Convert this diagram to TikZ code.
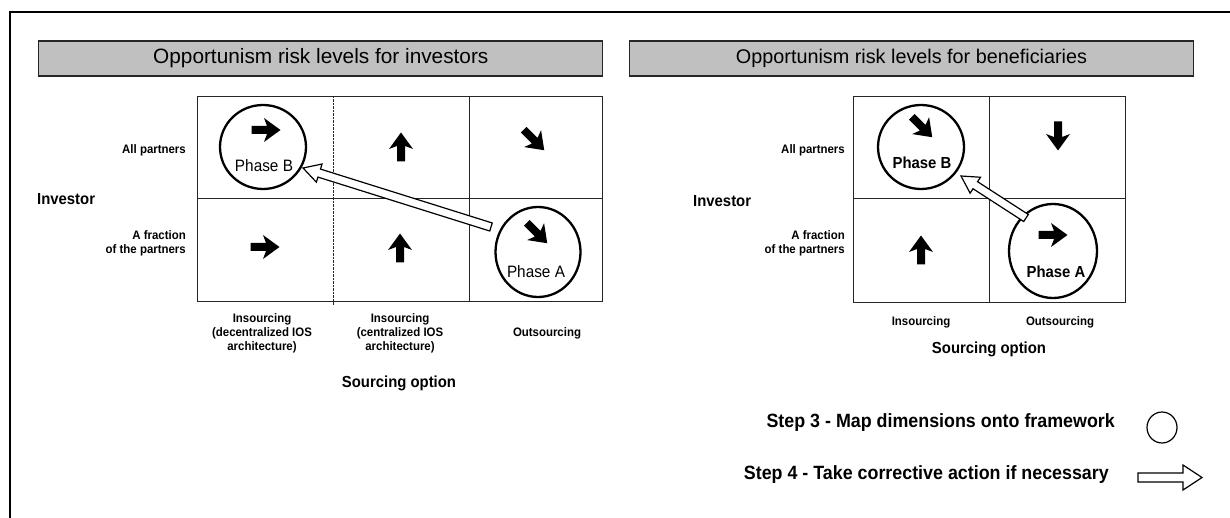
\documentclass[tikz,border=0pt]{standalone}
\usepackage{fontspec}
\setmainfont{Liberation Sans}
\newfontfamily\nf[FakeStretch=0.93]{Liberation Sans}
\usetikzlibrary{shapes.geometric,calc}
\definecolor{boxgray}{RGB}{192,192,192}
\newcommand{\blkarrow}[5]{%
  \coordinate (hb) at ($(#2)!#5!(#1)$);
  \draw[blockstyle] ($(#1)!#3!90:(#2)$) -- ($(hb)!#3!-90:(#1)$) -- ($(hb)!#4!-90:(#1)$) -- (#2)
     -- ($(hb)!#4!90:(#1)$) -- ($(hb)!#3!90:(#1)$) -- ($(#1)!#3!-90:(#2)$) -- cycle;}
\tikzset{
  titlebox/.style={draw=black!85, line width=1.3pt, fill=boxgray, minimum width=564pt, minimum height=35pt, inner sep=0pt},
  gridline/.style={draw=black!85, line width=0.9pt},
  lbl/.style={inner sep=0pt, font=\nf\bfseries\fontsize{12.3}{14}\selectfont},
  axis/.style={inner sep=0pt, font=\nf\bfseries\fontsize{16}{18}\selectfont},
  phase/.style={inner sep=0pt, font=\nf\fontsize{16.5}{18}\selectfont},
  phasebf/.style={inner sep=0pt, font=\nf\bfseries\fontsize{16}{18}\selectfont},
  ring/.style={ellipse, draw=black, line width=2.3pt, inner sep=0pt},
  blockstyle/.style={draw=black, fill=white, line width=1.2pt, line join=miter},
  steptext/.style={inner sep=0pt, font=\nf\bfseries\fontsize{19.2}{21}\selectfont},
  pics/hvarrow/.style={code={\fill[rotate=#1] (-14.5,-4) -- (1,-4) -- (-2,-12) -- (14.5,0) -- (-2,12) -- (1,4) -- (-14.5,4) -- cycle;}}
}
\begin{document}
\begin{tikzpicture}[x=1pt,y=-1pt]
\useasboundingbox (0,0) rectangle (1230,518);
% outer frame
\draw[line width=1.9pt] (9.7,518) -- (9.7,12.3) -- (1230,12.3);
% title boxes
\node[titlebox, font=\fontsize{20.8}{23}\selectfont] (t1) at (320.8,58.4) {Opportunism risk levels for investors};
\node[titlebox, font=\fontsize{19.8}{23}\selectfont] (t2) at (911.5,58.4) {Opportunism risk levels for beneficiaries};

% ---------- left grid ----------
\draw[gridline] (197,96) rectangle (602,301);
\draw[gridline] (197,198) -- (602,198);
\draw[gridline] (469,96) -- (469,301);
\draw[black!85, line width=0.8pt, dash pattern=on 2.2pt off 1.3pt] (333,96) -- (333,305);

\node[lbl, anchor=east] (la1) at (186,150) {All partners};
\node[axis, anchor=west] (linv) at (37,199) {Investor};
\node[lbl, anchor=east, align=right] (la2) at (186,243) {A fraction\\of the partners};
\node[lbl, align=center] (lc1) at (262,333) {Insourcing\\(decentralized IOS\\architecture)};
\node[lbl, align=center] (lc2) at (400,333) {Insourcing\\(centralized IOS\\architecture)};
\node[lbl] (lc3) at (547,333) {Outsourcing};
\node[axis] (lsrc) at (399,383) {Sourcing option};

\node[ring, minimum width=86pt, minimum height=84pt] (lB) at (263,147) {};
\node[ring, minimum width=85pt, minimum height=90pt] (lA) at (538,252) {};
\node[phase] (lBt) at (264,166) {Phase B};
\node[phase] (lAt) at (536,272) {Phase A};

\pic at (266,130) {hvarrow=0};
\pic at (401,147) {hvarrow=90};
\pic at (534,140) {hvarrow=-45};
\pic at (265,247) {hvarrow=0};
\pic at (400,248) {hvarrow=90};
\pic at (537,233) {hvarrow=-45};

\coordinate (lTail) at (491,227);
\coordinate (lTip) at (303,168);
\blkarrow{lTail}{lTip}{4.2pt}{9.5pt}{17pt}

% ---------- right grid ----------
\draw[gridline] (853,96) rectangle (1125,302);
\draw[gridline] (853,198) -- (1125,198);
\draw[gridline] (989,96) -- (989,302);

\node[lbl, anchor=east] (ra1) at (845,150) {All partners};
\node[axis, anchor=west] (rinv) at (693,201) {Investor};
\node[lbl, anchor=east, align=right] (ra2) at (845,243) {A fraction\\of the partners};
\node[lbl] (rc1) at (921,322) {Insourcing};
\node[lbl] (rc2) at (1060,322) {Outsourcing};
\node[axis] (rsrc) at (989,349) {Sourcing option};

\node[ring, minimum width=86pt, minimum height=84pt] (rB) at (921,147) {};
\node[ring, minimum width=88pt, minimum height=94pt] (rA) at (1053,251) {};
\node[phasebf] (rBt) at (922,163) {Phase B};
\node[phasebf] (rAt) at (1056,272) {Phase A};

\pic at (922,127) {hvarrow=-45};
\pic at (1058,136) {hvarrow=-90};
\pic at (921,250) {hvarrow=90};
\pic at (1053,235) {hvarrow=0};

\coordinate (rTail) at (1026,218);
\coordinate (rTip) at (961,176);
\blkarrow{rTail}{rTip}{4.2pt}{9.5pt}{17pt}

% ---------- legend ----------
\node[steptext, anchor=east] (s3) at (1115,423) {Step 3 - Map dimensions onto framework};
\node[steptext, anchor=east] (s4) at (1109,475) {Step 4 - Take corrective action if necessary};
\node[ellipse, draw=black, line width=1.2pt, minimum width=30pt, minimum height=31pt, inner sep=0pt] (lgc) at (1162,427.5) {};
\coordinate (lgTail) at (1138,477.5);
\coordinate (lgTip) at (1202,477.5);
\blkarrow{lgTail}{lgTip}{4.5pt}{12.5pt}{19pt}
\end{tikzpicture}
\end{document}
